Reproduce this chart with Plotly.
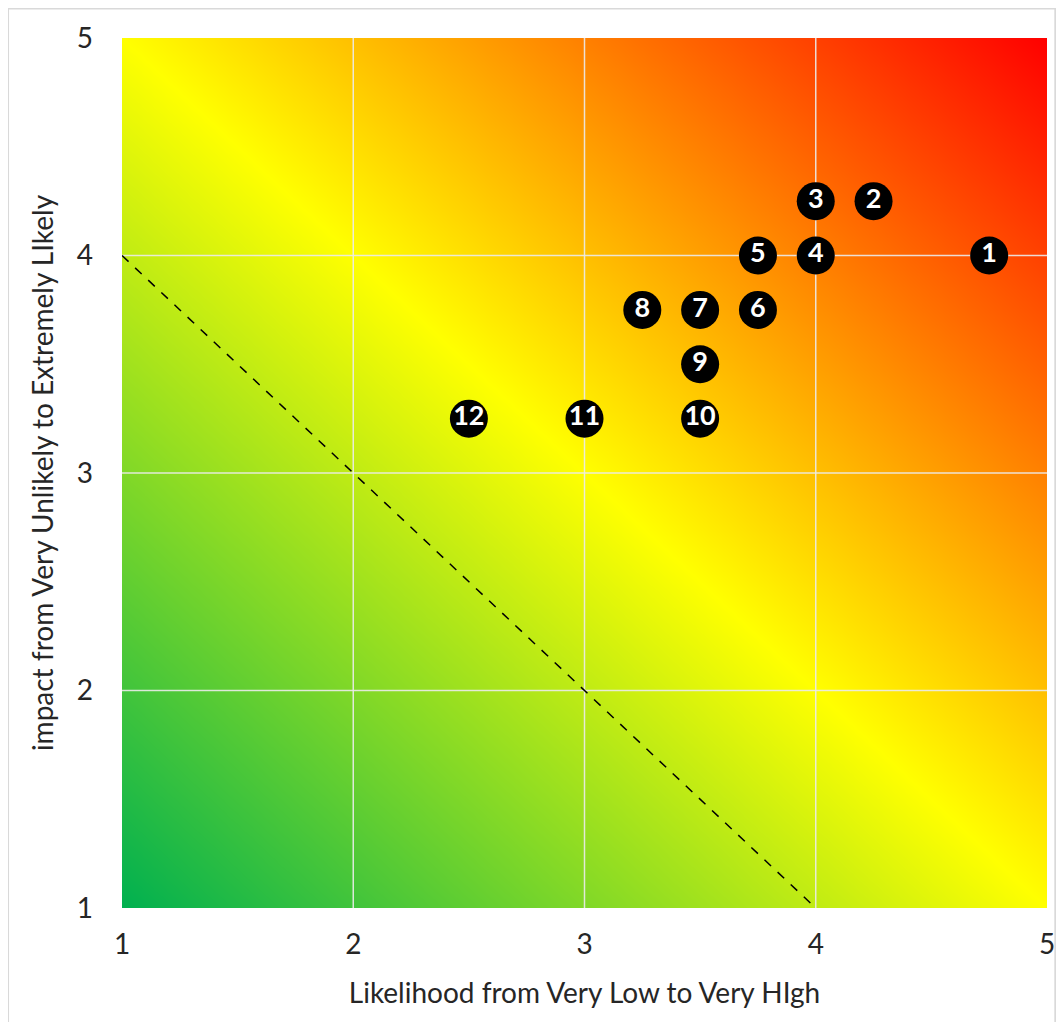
import numpy as np
import plotly.graph_objects as go

# risk items: label, likelihood (x), impact (y)
risk_labels = ["1", "2", "3", "4", "5", "6", "7", "8", "9", "10", "11", "12"]
likelihood = [4.75, 4.25, 4.0, 4.0, 3.75, 3.75, 3.5, 3.25, 3.5, 3.5, 3.0, 2.5]
impact = [4.0, 4.25, 4.25, 4.0, 4.0, 3.75, 3.75, 3.75, 3.5, 3.25, 3.25, 3.25]

# dashed threshold line
threshold_x = [1, 4]
threshold_y = [4, 1]

x_ticks = [1, 2, 3, 4, 5]
y_ticks = [1, 2, 3, 4, 5]

FONT = "Lato"
TEXT = "#262626"

fig = go.Figure()

# diagonal green -> yellow -> red background
g = np.linspace(1, 5, 201)
gx, gy = np.meshgrid(g, g)
fig.add_trace(go.Heatmap(
    x=g, y=g, z=gx + gy,
    colorscale=[[0, "#00b050"], [0.5, "#ffff00"], [1, "#ff0000"]],
    zmin=2, zmax=10, zsmooth="best", showscale=False, hoverinfo="skip",
))

# grid lines drawn over the background
gxs, gys = [], []
for v in x_ticks[1:-1]:
    gxs += [v, v, None]
    gys += [y_ticks[0], y_ticks[-1], None]
for v in y_ticks[1:-1]:
    gxs += [x_ticks[0], x_ticks[-1], None]
    gys += [v, v, None]
fig.add_trace(go.Scatter(
    x=gxs, y=gys, mode="lines",
    line=dict(color="rgba(235,235,235,0.9)", width=1.5),
    hoverinfo="skip", showlegend=False,
))

fig.add_trace(go.Scatter(
    x=threshold_x, y=threshold_y, mode="lines",
    line=dict(color="black", width=1.5, dash="dash"),
    hoverinfo="skip", showlegend=False,
))

fig.add_trace(go.Scatter(
    x=likelihood, y=impact, mode="markers+text",
    text=risk_labels, textposition="middle center",
    textfont=dict(family=FONT, size=27, color="white", weight="bold"),
    marker=dict(size=38, color="black"),
    showlegend=False,
))

axis_common = dict(
    range=[1, 5], showgrid=False, zeroline=False, showline=False,
    ticks="", tickfont=dict(family=FONT, size=28, color=TEXT),
    automargin=False,
)
fig.update_xaxes(**axis_common, tickvals=x_ticks, ticklabelstandoff=17,
                 title=dict(text="Likelihood from Very Low to Very HIgh",
                            font=dict(family=FONT, size=28, color=TEXT),
                            standoff=24))
fig.update_yaxes(**axis_common, tickvals=y_ticks, ticklabelstandoff=28,
                 title=dict(text="impact from Very Unlikely to Extremely LIkely",
                            font=dict(family=FONT, size=28, color=TEXT),
                            standoff=14))

# page body adds 8px, so the figure is 16px smaller than the window
fig.update_layout(
    width=1048, height=1014,
    margin=dict(l=114, r=9, t=30, b=114),
    paper_bgcolor="white", plot_bgcolor="white",
    shapes=[dict(type="rect", xref="paper", yref="paper",
                 x0=-0.1232, x1=1.009, y0=-0.14, y1=1.034,
                 line=dict(color="#d9d9d9", width=2), layer="below")],
)

fig.write_html("out.html")
